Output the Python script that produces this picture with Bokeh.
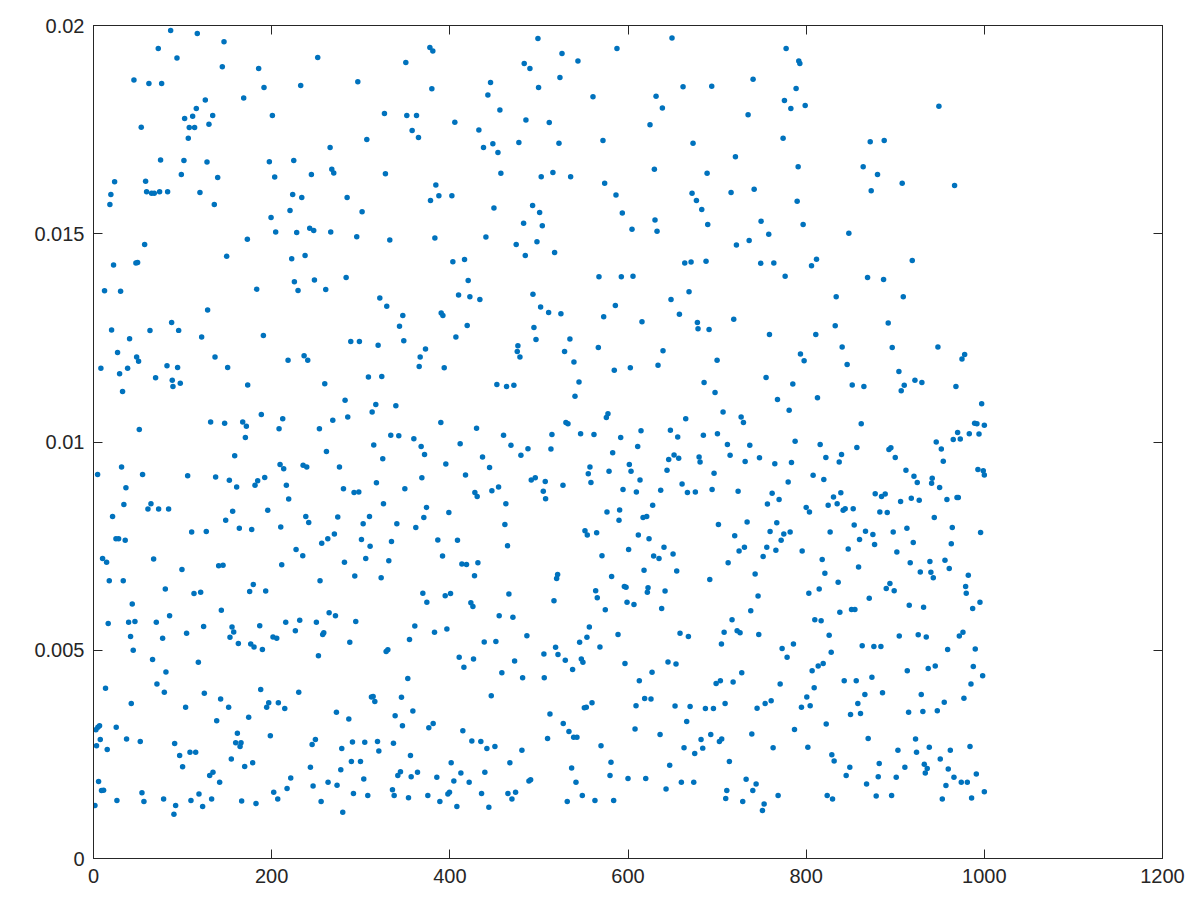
from bokeh.plotting import figure
from bokeh.models import FixedTicker, LinearAxis, Range1d
from bokeh.embed import file_html
from bokeh.resources import INLINE

# (x value, y value in units of 1e-5), one list per region
upper_a = [(86.6,1988),(116.5,1981),(146.5,1961),(72.7,1945),(93.7,1922),(144.6,1901),(185.4,1897),(45.4,1869),(62.2,1861),(76.5,1861),(191.4,1851),(232.6,1856),(168.6,1826),(125.5,1821),(115.4,1801),(102.3,1777),(111.3,1782),(133.8,1784),(200.8,1784),(129.6,1763),(53.6,1756),(107.5,1755),(113.5,1755),(106.4,1729),(75.3,1677),(101.5,1676),(127.4,1672),(197.4,1673),(224.8,1676),(98.6,1642),(139.4,1635),(203.4,1636),(244.6,1642),(23.7,1625),(58.5,1626),(59.6,1601),(65.2,1597),(68.2,1597),(74.2,1601),(83.2,1601),(119.5,1599),(19.5,1594),(223.6,1594),(233.8,1587),(18.4,1570),(135.6,1570),(220.6,1556),(199.3,1539),(242.7,1513),(247.2,1508),(204.5,1504),(228.1,1503),(172.7,1487),(57.4,1474),(149.5,1446),(237.5,1448),(222.5,1440),(22.5,1425),(47.6,1430),(49.5,1431),(225.5,1385),(248,1389),(12.4,1363),(30.4,1362),(183.2,1367),(229.6,1364)]
upper_b = [(498.9,1969),(377.6,1947),(380.9,1939),(350.6,1911),(251.7,1923),(483.5,1909),(489.9,1897),(296.7,1865),(445.7,1863),(379.8,1848),(499.6,1851),(442.7,1833),(456.2,1797),(326.6,1789),(351.7,1784),(362.6,1784),(405.6,1768),(485.4,1773),(357.7,1748),(432.6,1749),(364.8,1731),(306.8,1726),(265.6,1707),(437.8,1707),(448.3,1716),(477.5,1719),(454,1695),(267.5,1655),(269.7,1646),(327.7,1644),(457.3,1645),(502.6,1637),(384.3,1617),(387.7,1591),(402.3,1591),(378.3,1580),(284.7,1587),(449.5,1562),(492.9,1568),(500.8,1551),(301.5,1553),(482.8,1525),(503.8,1519),(266.3,1504),(295.5,1493),(332.6,1485),(383.2,1490),(440.5,1492),(474.5,1474),(497.8,1481),(484.7,1448),(403.4,1433),(416.5,1438),(283.6,1395),(420.6,1388),(260.7,1366),(321.4,1346),(409.8,1353),(422.5,1349),(433.7,1342),(493.3,1355)]
upper_c = [(649.4,1970),(587.6,1945),(525.9,1933),(543.8,1915),(523.6,1875),(740.4,1871),(661.8,1853),(694,1854),(560.7,1829),(631.5,1830),(638.6,1802),(734.8,1786),(511.6,1767),(624.7,1762),(571.9,1724),(522.5,1717),(673,1717),(720.6,1685),(629.6,1655),(515.7,1647),(535.6,1637),(688.8,1645),(573.8,1621),(586.5,1593),(671.9,1597),(715.7,1599),(741.6,1607),(676.8,1580),(682.8,1558),(593.6,1550),(630.3,1533),(749.4,1530),(689.5,1522),(604.5,1511),(632.6,1506),(758,1499),(736,1484),(721.7,1473),(517.6,1455),(663.7,1430),(670.8,1432),(687.6,1434),(749,1429),(763.7,1430),(567.4,1397),(592.5,1397),(605.6,1398),(668.5,1361),(648.3,1342)]
upper_d = [(777.5,1945),(791.7,1915),(792.9,1909),(788.7,1849),(775.6,1820),(782.8,1801),(798.9,1808),(949,1806),(774.1,1729),(871.9,1721),(887.6,1724),(791,1661),(864,1661),(880.1,1642),(907.8,1621),(966.6,1616),(873,1603),(789.9,1578),(796.6,1522),(847.9,1501),(811.6,1439),(806,1423),(919.1,1436),(776.4,1398),(868.9,1395),(886.9,1390),(833.7,1349),(909,1349)]

middle_a = [(128.1,1317),(87.7,1287),(20.3,1269),(63.4,1268),(95.6,1268),(121.4,1252),(40.5,1248),(190.7,1256),(27,1215),(48.4,1204),(50.6,1194),(136.4,1204),(236.4,1207),(218.4,1196),(240.5,1196),(8.3,1177),(38.3,1177),(82.5,1183),(94.4,1179),(150.6,1179),(29.3,1164),(69.7,1154),(88.4,1148),(97.4,1141),(89.2,1133),(173.1,1137),(32.6,1121),(188.4,1066),(212.4,1056),(131.5,1048),(147.2,1045),(167.5,1048),(171.6,1038),(208.3,1032),(51.4,1030),(170.5,1011),(158.5,967),(209.4,946),(213.5,936),(235.3,944),(239.4,940),(31.5,940),(4.6,922),(55.1,922),(105.7,919),(137.1,916),(152.5,908),(184.3,907),(192.2,915),(160.7,892),(181.3,896),(216.5,896),(36.4,890),(219.1,863),(34.1,850),(64.5,852),(61.1,839),(73.1,839),(84.3,839),(156.2,834),(195.6,836),(21.4,821),(238.3,821),(148.4,812),(241.6,807),(163.7,793),(177.6,790),(210.2,796),(110.2,784),(126.6,785),(25.2,768),(28.2,768),(35.6,764),(227.4,742),(234.9,727),(10.2,720),(14.7,711),(67.5,719),(99.3,694),(140.5,703),(145.4,704),(211.3,705),(17.7,667),(33.4,667)]
middle_b = [(329.2,1326),(347.2,1304),(390.3,1310),(392.2,1304),(501.9,1324),(343.5,1278),(419.5,1280),(494.4,1275),(406.8,1252),(288.8,1241),(298.5,1241),(348.3,1243),(319.5,1232),(496.7,1246),(476.4,1231),(475.7,1217),(478.7,1204),(372.7,1223),(366.7,1204),(365.6,1181),(393.7,1178),(308.6,1156),(323.6,1157),(259.6,1140),(452.8,1138),(463.7,1133),(471.9,1136),(282.4,1100),(316.9,1090),(339.4,1087),(312.8,1072),(268.6,1052),(285.4,1060),(389.9,1047),(253.6,1032),(430,1033),(333.7,1016),(342.7,1015),(359.6,1008),(460.3,1016),(314.6,993),(367.8,989),(411.6,996),(468.6,992),(487.7,984),(261.5,977),(371.6,970),(479.8,968),(324.7,960),(436.7,964),(395.5,947),(276.1,940),(444.6,939),(417.6,921),(368.6,914),(317.6,902),(491.4,909),(495.9,914),(507.1,905),(280.6,888),(292.5,879),(297.8,880),(349.5,888),(454.7,892),(447.2,883),(428.1,879),(430.7,869),(504.9,882),(507.5,864),(325.5,852),(462.9,852),(373.8,843),(398.9,831),(274.2,820),(309.8,821),(370.8,819),(302.7,804),(340.5,804),(461.8,802),(361.8,795),(270.4,779),(263,768),(256.2,757),(300.8,766),(334.5,761),(386.5,765),(408.6,764),(310.5,750),(464.8,751),(391.8,726),(305.6,720),(331.5,715),(281.7,711),(413.5,707),(418.7,706),(431.5,710),(293.3,678),(322.9,674),(427.7,679),(254.3,667)]
middle_c = [(585.8,1328),(510.9,1311),(524.7,1308),(572.7,1301),(657.7,1307),(718.7,1295),(615.7,1289),(677.9,1287),(678.6,1272),(691,1270),(758.8,1258),(534.8,1247),(566.7,1227),(528.8,1217),(639.3,1219),(539.3,1192),(700,1196),(584.6,1172),(602.6,1178),(633.7,1184),(545,1144),(685.4,1143),(755,1155),(697.7,1119),(540.5,1110),(706.7,1072),(577.5,1068),(575.7,1059),(664.8,1056),(727,1060),(530.3,1047),(532.6,1044),(729.6,1047),(614.6,1027),(647.6,1028),(514.6,1018),(546.8,1020),(561.8,1018),(591.8,1011),(655.8,1012),(684.6,1016),(700.4,1020),(711.6,994),(736.7,992),(610.9,989),(513.5,983),(582.8,974),(651.7,969),(679.8,964),(714.6,968),(645.7,958),(656.9,961),(680.9,952),(731.5,953),(747.6,962),(764.8,948),(557.3,940),(601.5,946),(555.4,924),(578.7,930),(603.4,930),(643.8,932),(696.6,925),(613.5,909),(558.4,903),(527,896),(660.7,899),(594.4,886),(609.4,880),(636.7,884),(666.7,879),(675.6,880),(694.4,886),(723.6,882),(761.8,877),(627.7,848),(756.5,851),(576.4,832),(590.6,837),(589.9,812),(616.9,819),(621,821),(733.7,808),(701.5,802),(551.7,787),(554.3,777),(564.8,782),(611.6,777),(623.6,768),(719.8,775),(759.5,785),(600.7,742),(640.4,747),(730.7,747),(755.8,747),(724.7,738),(650.6,731),(570.8,727),(628.8,726),(634.8,720),(751.7,725),(712.4,710),(618,692),(654.7,690),(521,682),(581.6,677),(742.7,683),(519.9,672),(691.8,670)]
middle_d = [(892.1,1286),(832.6,1279),(810.8,1258),(840.4,1228),(896.6,1227),(947.9,1228),(793.6,1211),(977.9,1210),(974.9,1199),(797.7,1195),(846,1186),(904.1,1169),(922.1,1148),(929.9,1143),(785,1139),(851.7,1137),(864.8,1133),(910.1,1136),(968.1,1133),(906.7,1123),(812.7,1106),(767.8,1102),(780.9,1076),(997,1092),(861.8,1044),(989.1,1045),(991.7,1044),(1000,1040),(970,1023),(983.1,1020),(994,1019),(965.1,1006),(973,1007),(787.6,1002),(815.7,994),(946,1000),(856.9,987),(895.1,986),(892.9,982),(951.7,983),(839.7,970),(822.1,963),(900,963),(783.5,951),(837.1,952),(953.9,954),(992.8,934),(998.8,931),(1000,921),(912,932),(921,918),(941.5,913),(940.8,901),(807.8,920),(819.8,910),(924.7,903),(779.8,904),(949.8,891),(838.9,878),(877.5,876),(888.7,875),(884.6,869),(830.7,868),(769.6,862),(906,857),(918,865),(926.9,860),(958,862),(969.3,867),(970.8,867),(800,843),(824.7,848),(834.8,852),(841.5,836),(843.8,840),(852.8,840),(803.7,832),(882.7,832),(891,831),(943.8,819),(767,806),(964,795),(913.1,793),(782,784),(774.9,779),(826.9,784),(866.6,786),(874.9,778),(897.7,784),(995.8,783),(853.9,801),(771.9,764),(859.9,766),(876.8,754),(920.2,759),(962.9,756),(847.2,743),(795.5,738),(766,740),(901.8,736),(818,718),(916.8,710),(938.9,713),(955.8,716),(858.8,700),(960.6,696),(821,685),(928.1,688),(940,687),(982,680),(942.7,674)]

lower_a = [(80.6,647),(179.4,658),(112.8,636),(120.3,639),(175.3,641),(193.3,642),(43.5,611),(143.5,596),(85.4,583),(16.5,564),(39.4,567),(46.5,569),(70.5,567),(123.6,557),(155.5,556),(157.4,544),(186.6,559),(215.8,567),(231.5,572),(250.2,567),(41.6,533),(77.6,529),(104.5,541),(153.2,531),(226.6,547),(201.5,532),(205.7,529),(162.6,516),(176.5,515),(180.2,508),(189.6,502),(44.6,500),(66.3,478),(117.7,471),(81.3,448),(71.2,419),(13.5,409),(187.7,406),(79.5,399),(124.4,397),(230.4,399),(142.7,383),(42.4,372),(196.7,374),(207.5,374),(194.4,363),(103.4,363),(151.7,363),(214.7,360),(138.3,331),(174.2,339),(6.8,319),(4.9,315),(2.7,309),(25.5,315),(161.5,301),(198.5,295),(7.6,286),(37.1,287),(52.5,281),(91.1,276),(159.6,278),(165.6,278),(164.5,269),(249.1,286),(245.4,274),(3.4,271),(15.4,262),(108.3,255),(114.7,255),(96.7,247),(154.7,239),(100,220),(169.7,221),(178.7,230),(243.5,219),(134.1,207),(130.4,199),(141.6,183),(221.4,193),(5.7,185),(9,163),(11.3,164),(246.5,174),(217.3,168),(202.3,159),(54.4,158),(118.4,155),(26.3,139),(56.6,137),(78.7,143),(109.4,139),(132.6,143),(166.3,138),(206.8,143),(182.4,132),(92.2,127),(122.5,125),(1.6,127),(90.3,106)]
lower_b = [(369.7,637),(374.2,615),(394.8,631),(400.8,636),(423.6,614),(425.9,605),(466.3,635),(264.5,590),(271.6,583),(294.4,569),(455.4,583),(470.8,579),(360.7,558),(396.7,551),(382.8,543),(258.5,542),(257.3,538),(486.5,535),(287.7,519),(354.7,526),(438.6,520),(451.7,521),(330.4,501),(328.5,497),(252.5,487),(505.6,491),(410.5,483),(426.6,479),(415.8,459),(472.7,474),(458.4,446),(352.8,432),(481.7,434),(506,434),(446.5,391),(312,388),(313.9,389),(315.8,377),(345.7,387),(358.5,354),(272.7,351),(286.6,335),(338.6,343),(346.8,319),(381.3,324),(376.4,314),(414.6,307),(290.7,280),(304.5,279),(318.8,281),(336.7,277),(424.7,282),(434.8,281),(278.7,264),(320.3,258),(441.6,264),(450.6,269),(480.9,260),(355.8,247),(289.5,233),(299.7,233),(401.5,230),(467.4,230),(277.6,213),(344.6,208),(341.6,199),(363.7,207),(356.6,196),(412.4,205),(439.3,207),(385.4,195),(303.4,191),(404.5,186),(421.7,183),(490.7,189),(488.8,186),(263.3,183),(273.4,176),(335.6,165),(291.8,156),(307.9,151),(337.5,151),(353.6,146),(375.3,151),(399.6,159),(397.8,155),(435.6,156),(465.2,156),(473.8,159),(469.7,143),(255.5,137),(388.8,137),(407.9,125),(443.8,123),(279.8,111)]
lower_c = [(595.9,653),(597.8,651),(563.7,643),(565.5,626),(622.5,650),(621.7,639),(641.6,642),(746,630),(516.9,619),(598.9,615),(606.7,610),(574.5,597),(637.8,600),(737.8,595),(716.8,573),(556.6,556),(658.4,541),(588.8,538),(667.8,533),(707.9,543),(722.5,547),(725.8,542),(746.8,538),(553.9,531),(545.7,519),(704.9,515),(568.5,508),(518.7,507),(521.4,490),(529.6,476),(547.6,479),(549.4,471),(537.8,454),(596.6,468),(644.9,472),(653.9,467),(627,447),(727.7,446),(612.7,427),(703.7,427),(698.9,420),(718,424),(618.7,384),(625.8,383),(559.6,374),(551,362),(553.2,363),(609,367),(652.8,366),(669.7,365),(686.9,360),(695.9,360),(709,372),(744.9,361),(753.9,372),(760.7,379),(512.4,347),(527.3,324),(665.9,329),(533.7,305),(607.9,311),(636,298),(692.9,298),(739,299),(682,286),(705.2,287),(702.6,281),(539,291),(542.7,291),(509.7,288),(569.7,271),(662.9,266),(683.9,265),(762.9,266),(674.9,252),(580.9,231),(713.8,233),(646.8,224),(536.7,217),(579.8,199),(600,192),(619.9,192),(732.6,190),(541.6,183),(659.9,183),(673.8,183),(743.8,179),(642.7,167),(710.9,163),(740.1,163),(548.7,151),(709.7,144),(531.8,137),(562.9,139),(583.9,139),(728.8,137),(752.8,131),(750.9,115)]
lower_d = [(803,637),(814.6,647),(835.9,663),(894,660),(889.9,648),(898.8,643),(870.8,625),(979,653),(979.7,637),(995.1,615),(915.7,608),(931.8,603),(986.9,600),(850.9,598),(854.7,598),(837.8,591),(809.7,573),(816.8,571),(825.8,536),(904.5,534),(925.8,537),(934.8,532),(976,543),(971.9,534),(785.7,515),(773,504),(862.9,511),(876,509),(883.9,509),(958.8,502),(989.8,503),(828.1,495),(778.6,483),(819.1,468),(813.5,462),(806.7,451),(987.6,461),(944.9,462),(937,456),(913.5,451),(873.8,435),(998.1,439),(842.7,427),(856.2,427),(770.8,419),(985,419),(809,410),(885.7,398),(929.2,394),(865.9,394),(800.7,388),(977.1,385),(955,375),(858,372),(804.5,367),(794.7,363),(947.2,355),(931,353),(915,351),(849.8,346),(861,348),(822.5,323),(786.9,310),(869.6,288),(922.8,287),(801.9,267),(938.2,267),(983.9,269),(903,260),(961.8,260),(923.9,255),(828.8,249),(950.5,239),(831.4,234),(882,228),(932.6,226),(849,219),(910.8,219),(935.9,216),(959.5,215),(933.7,205),(991,203),(844.9,199),(880.9,196),(901.1,195),(965.9,195),(867.8,179),(974.1,183),(980.9,183),(956.9,175),(1000,160),(768.5,151),(823.6,151),(829.6,143),(878.6,150),(895.9,151),(952.8,143),(985.7,145)]

x_ticks = [0, 200, 400, 600, 800, 1000, 1200]
y_ticks = [0, 0.005, 0.01, 0.015, 0.02]
y_tick_labels = ["0", "0.005", "0.01", "0.015", "0.02"]

regions = [upper_a, upper_b, upper_c, upper_d, middle_a, middle_b, middle_c, middle_d,
           lower_a, lower_b, lower_c, lower_d]
xs = [pt[0] for r in regions for pt in r]
ys = [pt[1] * 1e-5 for r in regions for pt in r]

INK = "#262626"
p = figure(width=1192, height=893, output_backend="svg", toolbar_location=None,
           x_range=Range1d(0, 1200), y_range=Range1d(0, 0.02),
           min_border_left=93, min_border_top=25, min_border_right=30, min_border_bottom=35)
p.frame_width = 1069
p.frame_height = 833
p.grid.visible = False
p.outline_line_color = INK
p.outline_line_width = 1
p.background_fill_color = "white"

p.scatter(xs, ys, marker="circle", size=5.5, fill_color="#0072BD", line_color=None)

def style(ax):
    ax.axis_line_color = INK
    ax.axis_line_width = 1
    ax.major_tick_line_color = INK
    ax.major_tick_in = 9
    ax.major_tick_out = 0
    ax.minor_tick_line_color = None
    ax.major_label_text_font = "Liberation Sans"
    ax.major_label_text_font_size = "20px"
    ax.major_label_text_color = INK

xa = p.xaxis[0]
xa.ticker = FixedTicker(ticks=x_ticks)
style(xa)
xa.major_label_standoff = 10
ya = p.yaxis[0]
ya.ticker = FixedTicker(ticks=y_ticks)
ya.major_label_overrides = {t: l for t, l in zip(y_ticks, y_tick_labels)}
style(ya)
ya.major_label_standoff = 9

top = LinearAxis(ticker=FixedTicker(ticks=x_ticks), major_label_overrides={t: "" for t in x_ticks})
style(top)
p.add_layout(top, "above")
right = LinearAxis(ticker=FixedTicker(ticks=y_ticks), major_label_overrides={t: "" for t in y_ticks})
style(right)
p.add_layout(right, "right")

open("out.html", "w").write(file_html(p, INLINE))
